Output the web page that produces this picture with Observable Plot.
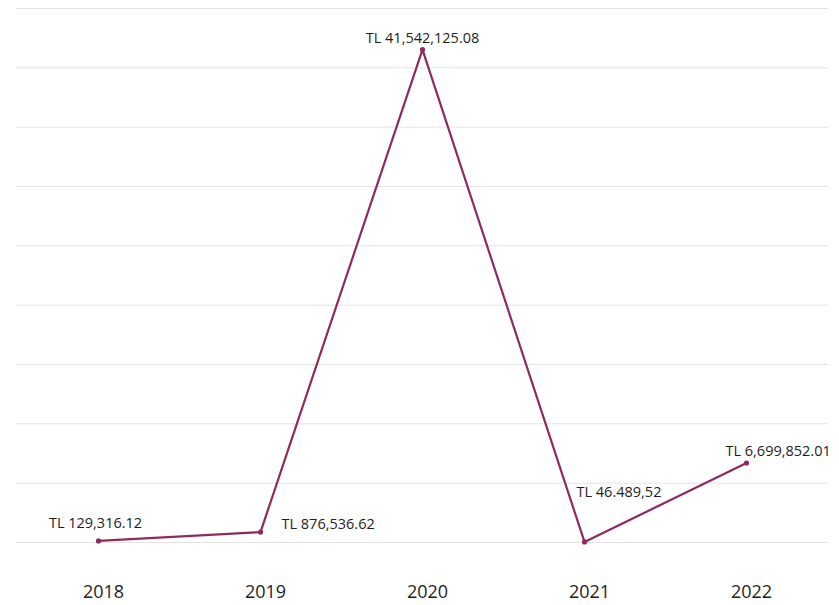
<!DOCTYPE html>
<html>
<head>
<meta charset="utf-8">
<script src="https://cdn.jsdelivr.net/npm/d3@7"></script>
<script src="https://cdn.jsdelivr.net/npm/@observablehq/plot@0.6"></script>
<style>
  html, body { margin: 0; padding: 0; background: #fff; }
  #chart svg { display: block; }
</style>
</head>
<body>
<div id="chart"></div>
<script>
// Annual amounts (TL)
const years = ["2018", "2019", "2020", "2021", "2022"];
const amounts = [129316.12, 876536.62, 41542125.08, 46489.52, 6699852.01];
const amountLabels = ["TL 129,316.12", "TL 876,536.62", "TL 41,542,125.08", "TL 46.489,52", "TL 6,699,852.01"];
const gridTicks = [0, 5e6, 10e6, 15e6, 20e6, 25e6, 30e6, 35e6, 40e6, 45e6];

const data = years.map((year, i) => ({year, amount: amounts[i], label: amountLabels[i]}));

const lineColor = "#8e2a5e";
const font = "'Open Sans', 'Noto Sans', sans-serif";

// One text mark per value label so each can sit clear of the line
function valueLabel(year, opts) {
  return Plot.text(data.filter(d => d.year === year), {
    x: "year", y: "amount", text: "label",
    fontSize: 14.5, fill: "#1e1e1e", lineAnchor: "middle", ...opts
  });
}

const chart = Plot.plot({
  width: 839,
  height: 605,
  marginTop: 8,
  marginBottom: 63,
  marginLeft: 16,
  marginRight: 11,
  style: {fontFamily: font, background: "#fff"},
  x: {type: "point", domain: years, padding: 0.5, label: null},
  y: {domain: [0, 45e6], axis: null},
  marks: [
    Plot.ruleY(gridTicks, {stroke: "#e3e3e3", strokeWidth: 1}),
    Plot.axisX({tickSize: 0, tickPadding: 43, fontSize: 18, fill: "#1e1e1e", dx: 5}),
    Plot.line(data, {x: "year", y: "amount", stroke: lineColor, strokeWidth: 2.2}),
    Plot.dot(data, {x: "year", y: "amount", r: 2.6, fill: lineColor}),
    valueLabel("2018", {dx: -3, dy: -18}),
    valueLabel("2019", {textAnchor: "start", dx: 21, dy: -8}),
    valueLabel("2020", {dy: -11}),
    valueLabel("2021", {textAnchor: "start", dx: -8, dy: -50}),
    valueLabel("2022", {textAnchor: "start", dx: -21, dy: -12})
  ]
});

document.getElementById("chart").append(chart);
</script>
</body>
</html>
